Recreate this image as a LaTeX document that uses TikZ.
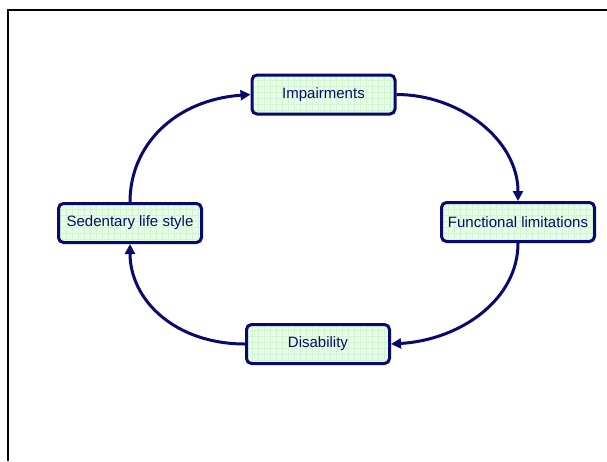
\documentclass[tikz,border=0pt]{standalone}
\usepackage{fontspec}
\setmainfont{Liberation Sans}
\usetikzlibrary{arrows.meta}
\definecolor{navy}{HTML}{0A0A6E}
\definecolor{boxfill}{HTML}{E6FDE6}
\definecolor{gridgreen}{HTML}{D2F4D2}
\tikzset{
  stagebox/.style={draw=navy, line width=3pt, rounded corners=5pt, fill=boxfill,
    text=navy, font=\fontsize{15}{18}\selectfont, inner sep=0pt, anchor=center,
    path picture={\draw[gridgreen, line width=0.3pt]
      ([xshift=-200pt,yshift=-200pt]path picture bounding box.center)
      grid[step=6pt] ([xshift=200pt,yshift=200pt]path picture bounding box.center);}},
  cyc/.style={draw=navy, line width=3pt, -{Triangle[length=10pt,width=10pt]}},
  frame/.style={black, line width=2.2pt}
}
\begin{document}
\begin{tikzpicture}[x=1pt,y=-1pt]
\useasboundingbox[fill=white] (0,0) rectangle (607,461);
\draw[frame] (8,461) -- (8,10) -- (607,10);
\node[stagebox, minimum width=143pt, minimum height=39pt] (imp) at (323.5,94.5) {Impairments};
\node[stagebox, minimum width=143pt, minimum height=39pt] (sed) at (130,223) {Sedentary life style};
\node[stagebox, minimum width=153pt, minimum height=39pt] (fun) at (518,222) {Functional limitations};
\node[stagebox, minimum width=143pt, minimum height=39pt] (dis) at (318,344) {Disability};
\draw[cyc] (sed.north) .. controls (130,145) and (175,100) .. (imp.west);
\draw[cyc] (imp.east) .. controls (460,94.5) and (518,140) .. (fun.north);
\draw[cyc] (fun.south) .. controls (518,300) and (460,340) .. (dis.east);
\draw[cyc] (dis.west) .. controls (175,344) and (130,300) .. (sed.south);
\end{tikzpicture}
\end{document}
